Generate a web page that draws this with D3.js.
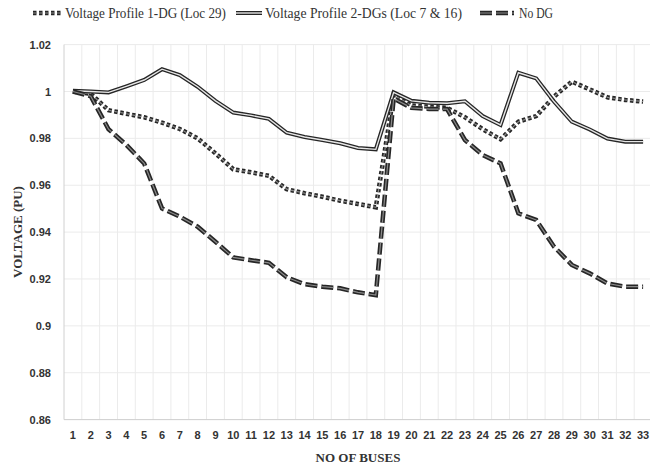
<!DOCTYPE html>
<html>
<head>
<meta charset="utf-8">
<script src="https://cdn.jsdelivr.net/npm/d3@7"></script>
<style>
  body { margin: 0; background: #fff; }
  svg { display: block; }
</style>
</head>
<body>
<svg id="chart"></svg>
<script>
const buses = d3.range(1, 34)
const yTicks = [0.86, 0.88, 0.9, 0.92, 0.94, 0.96, 0.98, 1, 1.02]

// Voltage Profile 1-DG (Loc 29)
const oneDG = [1.0, 0.999, 0.992, 0.9905, 0.989, 0.9867, 0.984, 0.98, 0.9736, 0.9668, 0.9655, 0.964,
  0.9583, 0.9566, 0.9551, 0.9534, 0.952, 0.9506, 0.9985, 0.994, 0.9935, 0.993, 0.989, 0.9839,
  0.9796, 0.9871, 0.9895, 0.9978, 1.0042, 1.0009, 0.9975, 0.9964, 0.9957]

// Voltage Profile 2-DGs (Loc 7 & 16)
const twoDG = [1.0003, 1.0, 0.9996, 1.0022, 1.0049, 1.0095, 1.007, 1.002, 0.996, 0.991, 0.9898, 0.9883,
  0.9824, 0.9806, 0.9793, 0.9779, 0.9759, 0.9753, 0.9996, 0.996, 0.9952, 0.995, 0.9958, 0.9895,
  0.9857, 1.008, 1.0056, 0.9957, 0.9871, 0.9838, 0.9799, 0.9786, 0.9786]

// No DG
const noDG = [1.0, 0.998, 0.9839, 0.9772, 0.9693, 0.9501, 0.9466, 0.9423, 0.9359, 0.9292, 0.928, 0.9269,
  0.9207, 0.9178, 0.9167, 0.916, 0.9143, 0.9131, 0.997, 0.993, 0.9925, 0.9925, 0.9793, 0.9729,
  0.9693, 0.948, 0.9452, 0.9338, 0.926, 0.9224, 0.9181, 0.9167, 0.9167]

const W = 650, H = 468
const plot = { left: 64, right: 652, top: 44.6, bottom: 419.6 }

const svg = d3.select('#chart').attr('width', W).attr('height', H)

const x = d3.scaleBand().domain(buses).range([plot.left, plot.right]).padding(0)
const y = d3.scaleLinear().domain([0.86, 1.02]).range([plot.bottom, plot.top])
const cx = (b) => x(b) + x.bandwidth() / 2

// grid
svg.append('g')
  .selectAll('line')
  .data(yTicks)
  .join('line')
  .attr('x1', plot.left)
  .attr('x2', plot.right)
  .attr('y1', (d) => y(d))
  .attr('y2', (d) => y(d))
  .attr('stroke', '#ebebeb')
  .attr('stroke-width', 1)

svg.append('g')
  .selectAll('line')
  .data(buses.slice(1))
  .join('line')
  .attr('x1', (d) => x(d))
  .attr('x2', (d) => x(d))
  .attr('y1', plot.top)
  .attr('y2', plot.bottom)
  .attr('stroke', '#ebebeb')
  .attr('stroke-width', 1)

// axis lines
svg.append('line')
  .attr('x1', plot.left).attr('x2', plot.left)
  .attr('y1', plot.top).attr('y2', plot.bottom)
  .attr('stroke', '#d0d0d0')
svg.append('line')
  .attr('x1', plot.left).attr('x2', plot.right)
  .attr('y1', plot.bottom).attr('y2', plot.bottom)
  .attr('stroke', '#d0d0d0')

// y-axis
svg.append('g')
  .attr('transform', `translate(${plot.left},0)`)
  .call(d3.axisLeft(y).tickValues(yTicks).tickFormat((d) => d3.format('')(+d.toFixed(2))).tickSize(0).tickPadding(13))
  .call((g) => g.select('.domain').remove())
  .selectAll('text')
  .style('font-family', '"Liberation Sans", Arial, sans-serif')
  .style('font-weight', 'bold')
  .style('font-size', '11px')
  .attr('fill', '#333')

// x-axis
svg.append('g')
  .attr('transform', `translate(0,${plot.bottom})`)
  .call(d3.axisBottom(x).tickSize(0).tickPadding(12))
  .call((g) => g.select('.domain').remove())
  .selectAll('text')
  .style('font-family', '"Liberation Sans", Arial, sans-serif')
  .style('font-weight', 'bold')
  .style('font-size', '11px')
  .attr('fill', '#333')

// axis titles
svg.append('text')
  .attr('x', 358)
  .attr('y', 462)
  .attr('text-anchor', 'middle')
  .style('font-family', '"Liberation Serif", "Times New Roman", serif')
  .style('font-weight', 'bold')
  .style('font-size', '13px')
  .attr('fill', '#333')
  .text('NO OF BUSES')

svg.append('text')
  .attr('transform', 'rotate(-90)')
  .attr('x', -232)
  .attr('y', 22)
  .attr('text-anchor', 'middle')
  .style('font-family', '"Liberation Serif", "Times New Roman", serif')
  .style('font-weight', 'bold')
  .style('font-size', '13px')
  .attr('fill', '#333')
  .text('VOLTAGE (PU)')

// series styles: outer dark stroke + inner lighter stroke (compound line)
const series = [
  { name: 'Voltage Profile 1-DG (Loc 29)', values: oneDG, dash: '3.5,2.5', outer: 4.5, inner: 1.2, innerColor: '#8a8a8a' },
  { name: 'Voltage Profile 2-DGs (Loc 7 & 16)', values: twoDG, dash: null, outer: 4, inner: 1.4, innerColor: '#e6e6e6' },
  { name: 'No DG', values: noDG, dash: '12,4', outer: 4.5, inner: 1.2, innerColor: '#8a8a8a' }
]

const line = d3.line()
  .x((d, i) => cx(buses[i]))
  .y((d) => y(d))

const drawSeries = (g, s, path) => {
  g.append('path')
    .attr('d', path)
    .attr('fill', 'none')
    .attr('stroke', '#262626')
    .attr('stroke-width', s.outer)
    .attr('stroke-dasharray', s.dash)
    .attr('stroke-linejoin', 'miter')
  g.append('path')
    .attr('d', path)
    .attr('fill', 'none')
    .attr('stroke', s.innerColor)
    .attr('stroke-width', s.inner)
    .attr('stroke-dasharray', s.dash)
}

const lines = svg.append('g')
series.forEach((s) => drawSeries(lines, s, line(s.values)))

// legend
const legendItems = [
  { s: series[0], x0: 33, x1: 62, tx: 65, len: 161 },
  { s: series[1], x0: 236, x1: 262, tx: 265, len: 197 },
  { s: series[2], x0: 480, x1: 514, tx: 519, len: 34 }
]
const legend = svg.append('g')
legendItems.forEach((it) => {
  const ly = 13
  drawSeries(legend, it.s, `M${it.x0},${ly}L${it.x1},${ly}`)
  legend.append('text')
    .attr('x', it.tx)
    .attr('y', ly + 4.5)
    .attr('textLength', it.len)
    .attr('lengthAdjust', 'spacingAndGlyphs')
    .style('font-family', '"Liberation Serif", "Times New Roman", serif')
    .style('font-size', '14px')
    .attr('fill', '#333')
    .text(it.s.name)
})
</script>
</body>
</html>
